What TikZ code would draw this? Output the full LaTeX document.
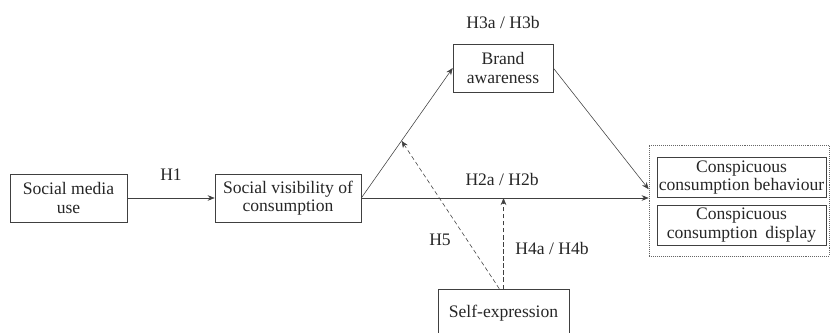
\documentclass[tikz,border=0pt]{standalone}
\usepackage{fontspec}
\setmainfont{Liberation Serif}
\newfontfamily\timesfont{Liberation Serif}
\usetikzlibrary{arrows.meta,calc}

\begin{document}
\begin{tikzpicture}[x=0.025cm, y=-0.025cm, >={Stealth[length=5pt,width=4pt]}]
        \tikzstyle{every node}=[font=\timesfont\fontsize{12.5}{13}\selectfont, text=black!85]
        \tikzstyle{box}=[draw=black!75, align=center, minimum height=1.2cm, inner sep=1pt]
        \tikzstyle{sub}=[box, minimum width=4.225cm, minimum height=0.99cm]
        \tikzstyle{link}=[draw=black!75, ->]
        \tikzstyle{hyp}=[draw=black!75, dash pattern=on 3pt off 2pt, ->]
        \useasboundingbox (0,0) rectangle (830,332);
        \clip (0,0) rectangle (830,332);
        % boxes
        \node [box, minimum width=2.925cm] (smu) at (68.5,198) {Social media\\use};
        \node [box, minimum width=3.65cm] (svc) at (288,198) {Social visibility of\\consumption};
        \node [box, minimum width=2.5cm] (ba) at (503,68) {Brand\\awareness};
        \node [box, minimum width=3.275cm] (se) at (503.5,313) {Self-expression};
        \node [draw=black!60, densely dotted, minimum width=4.5cm, minimum height=2.775cm] (cc) at (739,200.5) {};
        \node [sub] (ccb) at (741.5,177.5) {Conspicuous\\consumption behaviour};
        \node [sub] (ccd) at (741.5,225) {Conspicuous\\consumption\hspace{0.45em}display};
        % paths
        \draw [link] (smu) -- node [above=9pt] (h1) {H1} (svc);
        \draw [link] (svc.east) -- node [above=5pt, pos=0.49] (h2) {H2a / H2b} (svc.east -| cc.west);
        \draw [link] (svc.east) -- (ba.west);
        \draw [link] (ba.east) -- ([yshift=8pt]cc.west);
        \coordinate (mod) at ($(svc.east)!0.44!(ba.west)$);
        \draw [hyp] (se.north) -- (se.north |- svc.east);
        \draw [hyp] ([xshift=-3pt]se.north) -- (mod);
        % labels
        \node (h3) at (503,22) {H3a / H3b};
        \node (h5) at (440,240) {H5};
        \node (h4) at (552,248) {H4a / H4b};
\end{tikzpicture}
\end{document}
